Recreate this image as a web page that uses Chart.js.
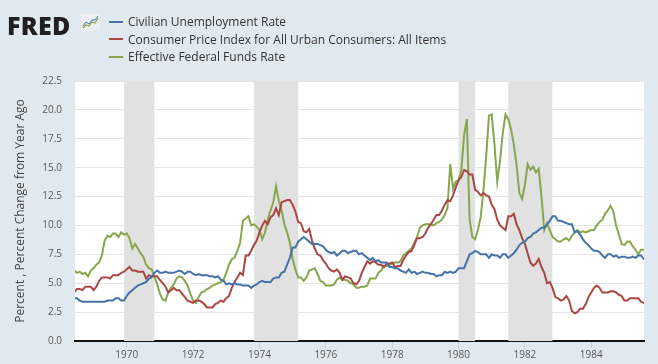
<!DOCTYPE html>
<html>
<head>
<meta charset="utf-8">
<script src="https://cdn.jsdelivr.net/npm/chart.js@4.4.1/dist/chart.umd.min.js"></script>
<style>
  html, body { margin: 0; padding: 0; background: #e1e9f0; }
  #wrap { position: relative; width: 658px; height: 364px; font-family: "Open Sans", sans-serif; }
  #fred { position: absolute; left: 7px; top: 8px; font-weight: 800; font-size: 25px; letter-spacing: 0.3px; color: #231f20; }
  #fred svg { position: absolute; left: 74px; top: 6px; }
  #legend { position: absolute; left: 109px; top: 13px; font-size: 12px; color: #333; }
  .item { height: 17.5px; line-height: 17.5px; white-space: nowrap; }
  .swatch { display: inline-block; width: 14px; height: 2px; vertical-align: middle; margin-right: 5px; margin-top: -2px; }
  canvas { position: absolute; left: 0; top: 0; }
</style>
</head>
<body>
<div id="wrap">
  <canvas id="chart" width="658" height="364"></canvas>
  <div id="fred">FRED<svg width="19" height="17" viewBox="0 0 19 17">
      <rect x="0" y="0" width="19" height="17" rx="2" fill="#eceff1"/>
      <polyline points="2,14 5,11 8,12 11,8 14,9 17,4" fill="none" stroke="#89a54e" stroke-width="1.2"/>
      <polyline points="2,12 5,8 8,10 11,6 14,6 17,2" fill="none" stroke="#4572a7" stroke-width="1"/>
    </svg></div>
  <div id="legend">
    <div class="item"><span class="swatch" style="background:#4572a7"></span>Civilian Unemployment Rate</div>
    <div class="item"><span class="swatch" style="background:#aa4643"></span>Consumer Price Index for All Urban Consumers: All Items</div>
    <div class="item"><span class="swatch" style="background:#89a54e"></span>Effective Federal Funds Rate</div>
  </div>
</div>
<script>
(function () {
    "use strict";

    // Monthly series, first value = June 1968
    var startYear = 1968;
    var startMonth = 6;

    // Civilian unemployment rate (%)
    var unrate = [
        3.7, 3.7, 3.5, 3.4, 3.4, 3.4, 3.4,
        3.4, 3.4, 3.4, 3.4, 3.4, 3.5, 3.5, 3.5, 3.7, 3.7, 3.5, 3.5,
        3.9, 4.2, 4.4, 4.6, 4.8, 4.9, 5.0, 5.1, 5.4, 5.5, 5.9, 6.1,
        5.9, 5.9, 6.0, 5.9, 5.9, 5.9, 6.0, 6.1, 6.0, 5.8, 6.0, 6.0,
        5.8, 5.7, 5.8, 5.7, 5.7, 5.7, 5.6, 5.6, 5.5, 5.6, 5.3, 5.2,
        4.9, 5.0, 4.9, 5.0, 4.9, 4.9, 4.8, 4.8, 4.8, 4.6, 4.8, 4.9,
        5.1, 5.2, 5.1, 5.1, 5.1, 5.4, 5.5, 5.5, 5.9, 6.0, 6.6, 7.2,
        8.1, 8.1, 8.6, 8.8, 9.0, 8.8, 8.6, 8.4, 8.4, 8.4, 8.3, 8.2,
        7.9, 7.7, 7.6, 7.7, 7.4, 7.6, 7.8, 7.8, 7.6, 7.7, 7.8, 7.8,
        7.5, 7.6, 7.4, 7.2, 7.0, 7.2, 6.9, 7.0, 6.8, 6.8, 6.8, 6.4,
        6.4, 6.3, 6.3, 6.1, 6.0, 5.9, 6.2, 5.9, 6.0, 5.8, 5.9, 6.0,
        5.9, 5.9, 5.8, 5.8, 5.6, 5.7, 5.7, 6.0, 5.9, 6.0, 5.9, 6.0,
        6.3, 6.3, 6.3, 6.9, 7.5, 7.6, 7.8, 7.7, 7.5, 7.5, 7.5, 7.2,
        7.5, 7.4, 7.4, 7.2, 7.5, 7.5, 7.2, 7.4, 7.6, 7.9, 8.3, 8.5,
        8.6, 8.9, 9.0, 9.3, 9.4, 9.6, 9.8, 9.8, 10.1, 10.4, 10.8, 10.8,
        10.4, 10.4, 10.3, 10.2, 10.1, 10.1, 9.4, 9.5, 9.2, 8.8, 8.5, 8.3,
        8.0, 7.8, 7.8, 7.7, 7.4, 7.2, 7.5, 7.5, 7.3, 7.4, 7.2, 7.3,
        7.3, 7.2, 7.2, 7.3, 7.2, 7.4, 7.4, 7.1, 7.1
    ];

    // CPI, percent change from year ago
    var cpi = [
        4.2, 4.5, 4.5, 4.4, 4.7, 4.7, 4.7,
        4.4, 4.7, 5.2, 5.5, 5.5, 5.5, 5.4, 5.7, 5.7, 5.7, 5.9, 6.0,
        6.2, 6.4, 6.1, 6.1, 6.0, 6.0, 6.0, 5.4, 5.7, 5.6, 5.6, 5.6,
        5.3, 5.0, 4.7, 4.2, 4.4, 4.6, 4.4, 4.4, 4.1, 3.8, 3.5, 3.4,
        3.3, 3.5, 3.5, 3.4, 3.2, 2.9, 2.9, 2.9, 3.2, 3.3, 3.5, 3.4,
        3.7, 3.9, 4.6, 5.1, 5.5, 5.9, 5.7, 7.4, 7.4, 7.8, 8.3, 8.7,
        9.4, 10.0, 10.4, 10.1, 10.7, 10.9, 11.5, 10.9, 12.0, 12.1, 12.2, 12.2,
        11.8, 11.2, 10.3, 10.2, 9.5, 9.4, 9.7, 8.7, 8.0, 7.5, 7.4, 7.0,
        6.7, 6.3, 6.1, 6.0, 6.2, 5.9, 5.3, 5.6, 5.5, 5.4, 5.0, 4.9,
        5.2, 5.9, 6.4, 6.9, 6.7, 6.9, 6.8, 6.6, 6.6, 6.4, 6.7, 6.7,
        6.8, 6.4, 6.5, 6.5, 7.0, 7.4, 7.7, 7.8, 8.3, 8.9, 8.9, 9.0,
        9.3, 9.8, 10.1, 10.5, 10.9, 10.9, 11.3, 11.8, 12.2, 12.1, 12.6, 13.3,
        13.9, 14.2, 14.8, 14.7, 14.4, 14.4, 13.1, 12.9, 12.6, 12.8, 12.6, 12.5,
        11.8, 11.4, 10.5, 10.0, 9.8, 9.6, 10.8, 10.8, 11.0, 10.1, 9.6, 8.9,
        8.4, 7.6, 6.8, 6.5, 6.7, 7.1, 6.4, 5.9, 5.0, 5.1, 4.6, 3.8,
        3.7, 3.5, 3.6, 3.9, 3.5, 2.6, 2.4, 2.5, 2.8, 2.8, 3.2, 3.8,
        4.2, 4.6, 4.8, 4.6, 4.2, 4.2, 4.2, 4.3, 4.3, 4.2, 4.0, 3.9,
        3.5, 3.5, 3.7, 3.7, 3.7, 3.7, 3.4, 3.3, 3.1
    ];

    // Effective federal funds rate (%)
    var fedfunds = [
        6.1, 5.9, 6.0, 5.8, 5.9, 5.6, 6.1,
        6.3, 6.6, 6.8, 7.4, 8.7, 9.1, 9.0, 9.3, 9.3, 9.0, 9.4, 9.2,
        9.3, 8.9, 8.0, 8.4, 8.0, 7.6, 7.3, 6.6, 6.3, 6.2, 5.6, 4.9,
        4.1, 3.6, 3.5, 4.2, 4.6, 4.9, 5.4, 5.6, 5.5, 5.2, 4.8, 4.1,
        3.5, 3.3, 3.8, 4.2, 4.3, 4.5, 4.6, 4.8, 4.9, 5.0, 5.1, 5.3,
        5.9, 6.6, 7.1, 7.2, 7.8, 8.5, 10.4, 10.6, 10.8, 10.0, 10.1, 9.9,
        9.6, 8.8, 9.4, 10.5, 11.3, 12.0, 13.4, 12.1, 11.3, 10.1, 9.4, 8.5,
        7.1, 6.2, 5.5, 5.5, 5.2, 5.5, 6.1, 6.2, 6.3, 5.8, 5.2, 5.1,
        4.8, 4.8, 4.8, 4.9, 5.3, 5.5, 5.3, 5.3, 5.2, 5.0, 4.9, 4.6,
        4.6, 4.7, 4.7, 4.8, 5.4, 5.4, 5.4, 5.9, 6.1, 6.5, 6.5, 6.6,
        6.7, 6.8, 6.8, 6.9, 7.4, 7.6, 7.8, 8.0, 8.5, 9.0, 9.8, 10.0,
        10.1, 10.1, 10.1, 10.0, 10.2, 10.3, 10.5, 10.9, 11.5, 15.3, 13.2, 13.8,
        13.9, 14.8, 17.8, 19.2, 10.5, 9.0, 8.8, 9.6, 10.7, 13.0, 16.0, 19.5,
        19.6, 17.0, 13.8, 15.6, 18.0, 19.6, 19.2, 18.3, 17.0, 15.2, 12.8, 12.3,
        13.5, 15.3, 14.8, 15.1, 14.6, 14.9, 12.5, 9.6, 10.2, 9.6, 9.0, 8.8,
        8.6, 8.6, 8.8, 8.9, 8.7, 9.1, 9.4, 9.6, 9.4, 9.5, 9.4, 9.5,
        9.6, 9.6, 10.0, 10.3, 10.5, 11.0, 11.3, 11.7, 11.2, 10.0, 9.2, 8.4,
        8.3, 8.6, 8.6, 8.2, 7.9, 7.5, 7.9, 7.9, 7.9
    ];

    // Recessions (decimal years, start / end)
    var recStart = [1969.92, 1973.84, 1980.0, 1981.5];
    var recEnd = [1970.83, 1975.17, 1980.5, 1982.83];

    var xTicks = [1970, 1972, 1974, 1976, 1978, 1980, 1982, 1984];
    var yTicks = [0, 2.5, 5, 7.5, 10, 12.5, 15, 17.5, 20, 22.5];

    // monthly values -> {x: decimal year, y}
    function toPoints(values) {
        return values.map(function (v, i) {
            return { x: startYear + (startMonth - 1 + i) / 12, y: v };
        });
    }

    // white plot area + grey recession bands
    var bands = {
        id: 'bands',
        beforeDatasetsDraw: function (chart) {
            var ctx = chart.ctx, a = chart.chartArea, xs = chart.scales.x;
            ctx.save();
            ctx.fillStyle = '#e1e1e1';
            for (var i = 0; i < recStart.length; i++) {
                var x0 = Math.max(a.left, xs.getPixelForValue(recStart[i]));
                var x1 = Math.min(a.right, xs.getPixelForValue(recEnd[i]));
                ctx.fillRect(x0, a.top, x1 - x0, a.bottom - a.top);
            }
            ctx.restore();
        },
        beforeDraw: function (chart) {
            var ctx = chart.ctx, a = chart.chartArea;
            ctx.save();
            ctx.fillStyle = '#ffffff';
            ctx.fillRect(a.left, a.top, a.right - a.left, a.bottom - a.top);
            ctx.restore();
        }
    };

    function line(label, values, color) {
        return {
            label: label,
            data: toPoints(values),
            borderColor: color,
            backgroundColor: color,
            borderWidth: 2,
            pointRadius: 0,
            tension: 0
        };
    }

    var tickFont = { family: 'Open Sans', size: 10 };

    new Chart(document.getElementById('chart').getContext('2d'), {
        type: 'line',
        data: {
            datasets: [
                line('Civilian Unemployment Rate', unrate, '#4572a7'),
                line('Consumer Price Index for All Urban Consumers: All Items', cpi, '#aa4643'),
                line('Effective Federal Funds Rate', fedfunds, '#89a54e')
            ]
        },
        options: {
            responsive: false,
            animation: false,
            layout: { padding: { top: 81, right: 14, left: 0, bottom: 0 } },
            plugins: { legend: { display: false }, tooltip: { enabled: false } },
            scales: {
                x: {
                    type: 'linear',
                    min: 1968.44,
                    max: 1985.59,
                    afterBuildTicks: function (scale) {
                        scale.ticks = xTicks.map(function (v) { return { value: v }; });
                    },
                    afterFit: function (scale) { scale.height = 23; },
                    ticks: { font: tickFont, color: '#595959', padding: 1, maxRotation: 0,
                             callback: function (v) { return String(v); } },
                    grid: { drawOnChartArea: false, drawTicks: true, tickLength: 7, color: '#c5d3e0' },
                    border: { color: '#111111', width: 2 }
                },
                y: {
                    min: 0,
                    max: 22.5,
                    afterBuildTicks: function (scale) {
                        scale.ticks = yTicks.map(function (v) { return { value: v }; });
                    },
                    afterFit: function (scale) { scale.width = 75; },
                    ticks: { font: tickFont, color: '#595959', padding: 13,
                             callback: function (v) { return v.toFixed(1); } },
                    grid: { color: '#e6e6e6', drawTicks: false },
                    border: { display: false },
                    title: {
                        display: true,
                        text: 'Percent , Percent Change from Year Ago',
                        font: { family: 'Open Sans', size: 12 },
                        color: '#444444',
                        padding: { top: 13, bottom: 0 }
                    }
                }
            }
        },
        plugins: [bands]
    });
})();
</script>
</body>
</html>
